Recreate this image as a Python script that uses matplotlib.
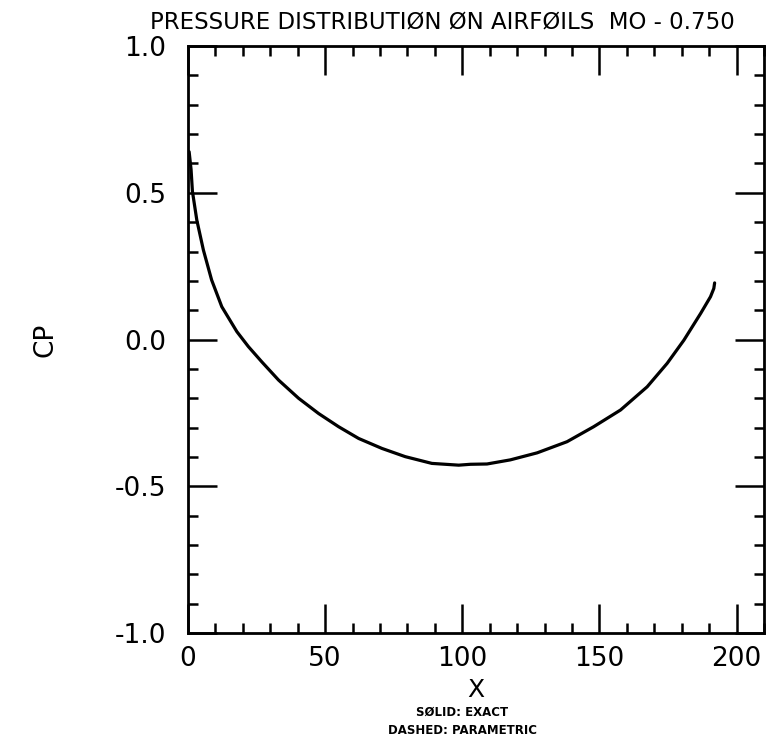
import matplotlib
matplotlib.use("Agg")
import matplotlib.pyplot as plt
from matplotlib.ticker import MultipleLocator

# Values
x_exact = [0.4, 1.1, 1.6, 3.2, 5.6, 8.6, 12.3, 17.8, 22.0, 26.9, 33.0, 40.3,
           47.6, 54.9, 62.2, 70.7, 79.2, 88.9, 98.7, 103.0, 109.0, 117.5,
           127.3, 138.2, 147.9, 157.7, 167.4, 174.7, 180.8, 186.9, 190.5,
           191.7, 192.0]
cp_exact = [0.64, 0.58, 0.505, 0.407, 0.305, 0.203, 0.112, 0.027, -0.024,
            -0.076, -0.138, -0.200, -0.252, -0.297, -0.337, -0.371, -0.399,
            -0.422, -0.428, -0.425, -0.424, -0.410, -0.386, -0.348, -0.297,
            -0.240, -0.161, -0.081, -0.002, 0.089, 0.146, 0.174, 0.193]

x_ticks = [0, 50, 100, 150, 200]
y_ticks = [-1.0, -0.5, 0.0, 0.5, 1.0]
y_tick_labels = ["-1.0", "-0.5", "0.0", "0.5", "1.0"]

title = "PRESSURE DISTRIBUTIØN ØN AIRFØILS  MO - 0.750"

plt.rcParams["font.family"] = ["DejaVu Sans"]

fig = plt.figure(figsize=(7.7, 7.43), dpi=100)
ax = fig.add_axes([0.2442, 0.148, 0.748, 0.790])

ax.plot(x_exact, cp_exact, color="black", linewidth=2.3, solid_capstyle="round")

ax.set_xlim(0, 210)
ax.set_ylim(-1.0, 1.0)
ax.set_xticks(x_ticks)
ax.set_yticks(y_ticks)
ax.set_yticklabels(y_tick_labels)
ax.xaxis.set_minor_locator(MultipleLocator(10))
ax.yaxis.set_minor_locator(MultipleLocator(0.1))

ax.tick_params(which="both", direction="in", top=True, right=True,
               width=1.8, color="black")
ax.tick_params(which="major", length=21, labelsize=19)
ax.tick_params(which="minor", length=7)
ax.tick_params(axis="x", which="major", pad=9)
ax.tick_params(axis="y", which="major", pad=16)

for sp in ax.spines.values():
    sp.set_linewidth(2)

ax.set_xlabel("X", fontsize=18, labelpad=5)
ax.set_ylabel("CP", fontsize=19, labelpad=40)

fig.text(0.575, 0.970, title, fontsize=16.5, ha="center", va="center")
fig.text(0.600, 0.041, "SØLID: EXACT", fontsize=8.5, ha="center", va="center",
         fontweight="bold")
fig.text(0.600, 0.017, "DASHED: PARAMETRIC", fontsize=8.5, ha="center",
         va="center", fontweight="bold")

fig.savefig("out.png", dpi=100)
